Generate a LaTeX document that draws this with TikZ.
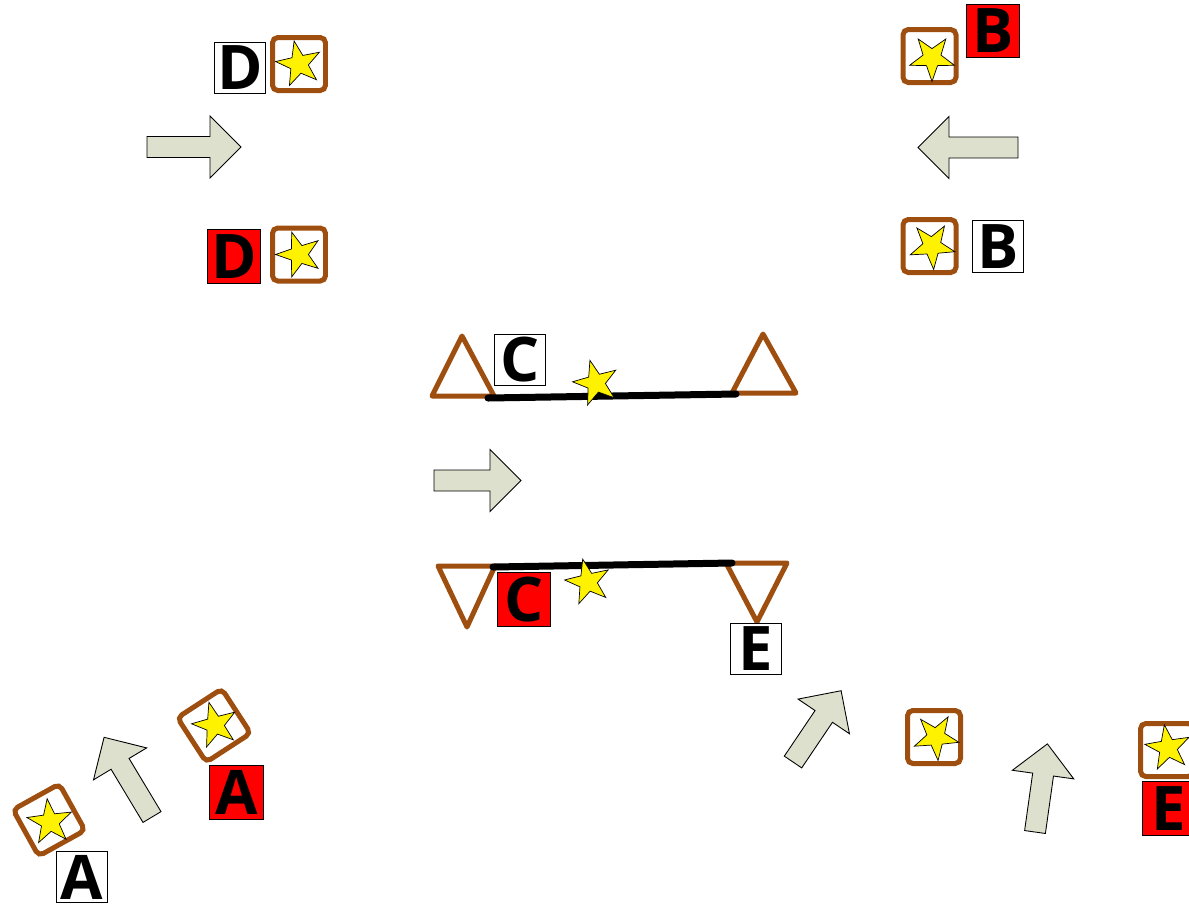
\documentclass[tikz,border=0pt]{standalone}
\usepackage{fontspec}
\setmainfont{Open Sans}
\definecolor{framebrown}{RGB}{158, 78, 14}
\definecolor{arrowgrey}{RGB}{220, 224, 204}
\usetikzlibrary{shapes.geometric}

\tikzset{
  starframe/.style={draw=framebrown, line width=0.1cm, rounded corners=3pt, minimum size=1.06cm, inner sep=0pt},
  starry/.style={star, star points=5, star point ratio=2.5, draw=black, line width=0.4pt, fill=yellow, minimum size=0.94cm, inner sep=0pt},
  letterbox/.style={draw=black, fill=white, line width=0.8pt, minimum size=1.03cm, inner sep=0pt, font=\fontsize{35}{35}\selectfont\bfseries},
  redbox/.style={letterbox, fill=red, minimum size=1.07cm},
  seesaw/.style={draw=framebrown, line width=0.1cm, line join=round},
  beam/.style={line width=0.14cm, line cap=round},
  pics/fatarrow/.style={code={
    \draw[fill=arrowgrey, draw=black, line width=0.5pt] (0,-10.5) -- (#1-31,-10.5) -- (#1-31,-31) -- (#1,0) -- (#1-31,31) -- (#1-31,10.5) -- (0,10.5) -- cycle;
  }}
}

\begin{document}
\begin{tikzpicture}[x=0.02cm, y=-0.02cm]
  \useasboundingbox (0,0) rectangle (1189,904);

  % D: top left
  \node[letterbox] (Dwhite) at (240,68) {D};
  \node[starframe] (Dframe1) at (299,64) {};
  \node[starry, rotate=12] (Dstar1) at (Dframe1) {};
  \pic at (147,147) {fatarrow=94};
  \node[redbox] (Dred) at (234,256.5) {D};
  \node[starframe] (Dframe2) at (299,254.5) {};
  \node[starry, rotate=18] (Dstar2) at (Dframe2) {};

  % B: top right
  \node[starframe] (Bframe1) at (929.5,56) {};
  \node[starry, rotate=36] (Bstar1) at (932,58) {};
  \node[redbox] (Bred) at (993,31) {B};
  \pic[rotate=180] at (1018,147.5) {fatarrow=100};
  \node[starframe] (Bframe2) at (929.5,246) {};
  \node[starry, rotate=40] (Bstar2) at (932,246) {};
  \node[letterbox] (Bwhite) at (998,246.5) {B};

  % C: seesaw before
  \draw[seesaw] (462,336) -- (432,396) -- (494,396) -- cycle;
  \draw[seesaw] (763,334) -- (732,393) -- (796,393) -- cycle;
  \coordinate (barL1) at (488,398);
  \coordinate (barR1) at (736,394);
  \draw[beam] (barL1) -- (barR1);
  \node[starry, rotate=15] (Cstar1) at (596,383) {};
  \node[letterbox] (Cwhite) at (520,360) {C};
  \pic at (434,480.5) {fatarrow=87};

  % C: seesaw after
  \draw[seesaw] (438,566) -- (495,566) -- (467,627) -- cycle;
  \draw[seesaw] (726,563) -- (787,563) -- (757,622) -- cycle;
  \coordinate (barL2) at (493,567);
  \coordinate (barR2) at (732,563);
  \draw[beam] (barL2) -- (barR2);
  \node[redbox] (Cred) at (524,599.5) {C};
  \node[starry, rotate=13] (Cstar2) at (588,582) {};
  \node[letterbox] (Ewhite) at (756,649) {E};

  % A: bottom left
  \node[starframe, rotate=29] (Aframe1) at (49,820) {};
  \node[starry, rotate=7] (Astar1) at (50,822) {};
  \node[letterbox] (Awhite) at (82,877) {A};
  \pic[rotate=121] at (152,817) {fatarrow=93};
  \node[starframe, rotate=33] (Aframe2) at (214,725.5) {};
  \node[starry, rotate=15] (Astar2) at (215,725) {};
  \node[redbox] (Ared) at (236.5,792.5) {A};

  % E: bottom right
  \pic[rotate=56] at (793,762) {fatarrow=86};
  \node[starframe] (Eframe1) at (934,737) {};
  \node[starry, rotate=41] (Estar1) at (936,737) {};
  \pic[rotate=82] at (1035,832) {fatarrow=89};
  \node[starframe] (Eframe2) at (1167,750) {};
  \node[starry, rotate=9] (Estar2) at (1168,748) {};
  \node[redbox] (Ered) at (1169,808.5) {E};
\end{tikzpicture}
\end{document}
